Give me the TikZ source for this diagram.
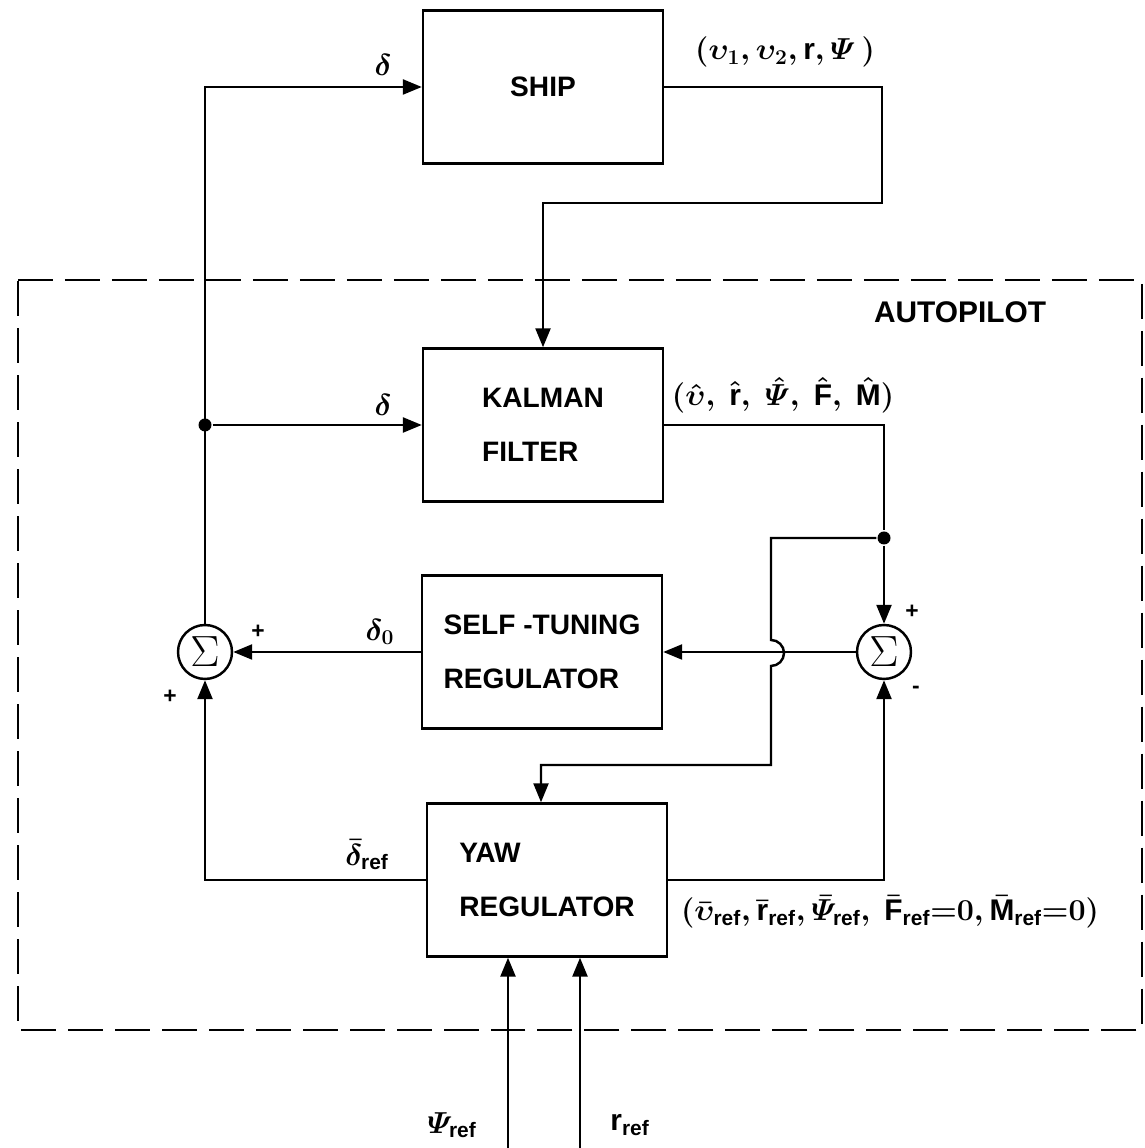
\documentclass[tikz,border=0pt]{standalone}
\usepackage{amsmath}
\usepackage[no-math]{fontspec}
\setmainfont{Liberation Sans}
\usetikzlibrary{positioning,arrows.meta,calc}
\newcommand{\rf}{_{\textbf{ref}}}

\begin{document}
\begin{tikzpicture}[
    x=0.02cm, y=0.02cm,
    line width=1.4pt,
    >={Triangle[length=0.38cm,width=0.3cm]},
    block/.style={rectangle, draw, minimum width=4.8cm, minimum height=3.06cm, align=left, font=\fontsize{16}{31}\selectfont\bfseries},
    sumnode/.style={circle, draw, minimum size=1.08cm, inner sep=0pt, font=\fontsize{25}{25}\selectfont},
    dot/.style={circle, fill, inner sep=0pt, minimum size=0.26cm},
    lbl/.style={font=\fontsize{17}{19}\selectfont\bfseries\boldmath, inner sep=0pt},
    sign/.style={font=\fontsize{13}{14}\selectfont\bfseries, inner sep=0pt},
]
\useasboundingbox (0,0) rectangle (1144,1148);

% Autopilot frame
\draw[dash pattern=on 0.7cm off 0.24cm] (18,868) -- (1142,868) -- (1142,118) -- (18,118) -- cycle;
\node[lbl] (autopilot) at (960,836) {AUTOPILOT};

% Blocks
\node[block] (ship) at (543,1061) {SHIP};
\node[block] (kalman) at (543,723) {KALMAN\\FILTER};
\node[block] (str) at (542,496) {SELF -TUNING\\REGULATOR};
\node[block] (yaw) at (547,268) {YAW\\REGULATOR};

% Summation points
\node[sumnode] (sumL) at (205,496) {$\Sigma$};
\node[sumnode] (sumR) at (884,496) {$\Sigma$};
\node[sign] at (258,516) {+};
\node[sign] at (170,451) {+};
\node[sign] at (912,536) {+};
\node[sign] at (916,458) {-};

% Junctions
\node[dot] (dotL) at (205,723) {};
\node[dot] (dotR) at (884,610) {};

% Signals
\draw[->] (sumL) |- (ship);
\draw[->] (dotL) -- (kalman);
\draw[->] (ship.east) -| (882,945) -| (kalman.north);
\draw (kalman.east) -| (dotR);
\draw[->] (dotR) -- (sumR);
\draw[->] (sumR) -- (str);
\draw[->] (str) -- (sumL);
\draw[->] (dotR) -| (771,508) arc[start angle=90, end angle=-90, radius=0.26cm]
    -- (771,383) -| ($(yaw.north)+(-6,0)$);
\draw[->] (yaw.west) -| (sumL);
\draw[->] (yaw.east) -| (sumR);

% Inputs
\coordinate (psiin) at (508,0);
\coordinate (rin) at (580,0);
\draw[->] (psiin) -- (psiin |- yaw.south);
\draw[->] (rin) -- (rin |- yaw.south);

% Labels
\node[lbl] (ldelta1) at (383,1083) {$\delta$};
\node[lbl] (lstate) at (785,1096) {$(\upsilon_1, \upsilon_2, \text{r}, \varPsi\,)$};
\node[lbl] (ldelta2) at (383,743) {$\delta$};
\node[lbl] (lest) at (783,753) {$(\hat{\upsilon},\ \hat{\text{r}},\ \hat{\varPsi},\ \hat{\text{F}},\ \hat{\text{M}})$};
\node[lbl] (ldelta0) at (380,516) {$\delta_0$};
\node[lbl] (ldeltaref) at (367,293) {$\bar{\delta}\rf$};
\node[lbl] (lref) at (890,236) {$(\bar{\upsilon}\rf, \bar{\text{r}}\rf, \bar{\varPsi}\rf,\ \bar{\text{F}}\rf{=}0,\bar{\text{M}}\rf{=}0)$};
\node[lbl] (lpsi) at (452,23) {$\varPsi\rf$};
\node[lbl] (lr) at (630,23) {$\text{r}\rf$};

\end{tikzpicture}
\end{document}
